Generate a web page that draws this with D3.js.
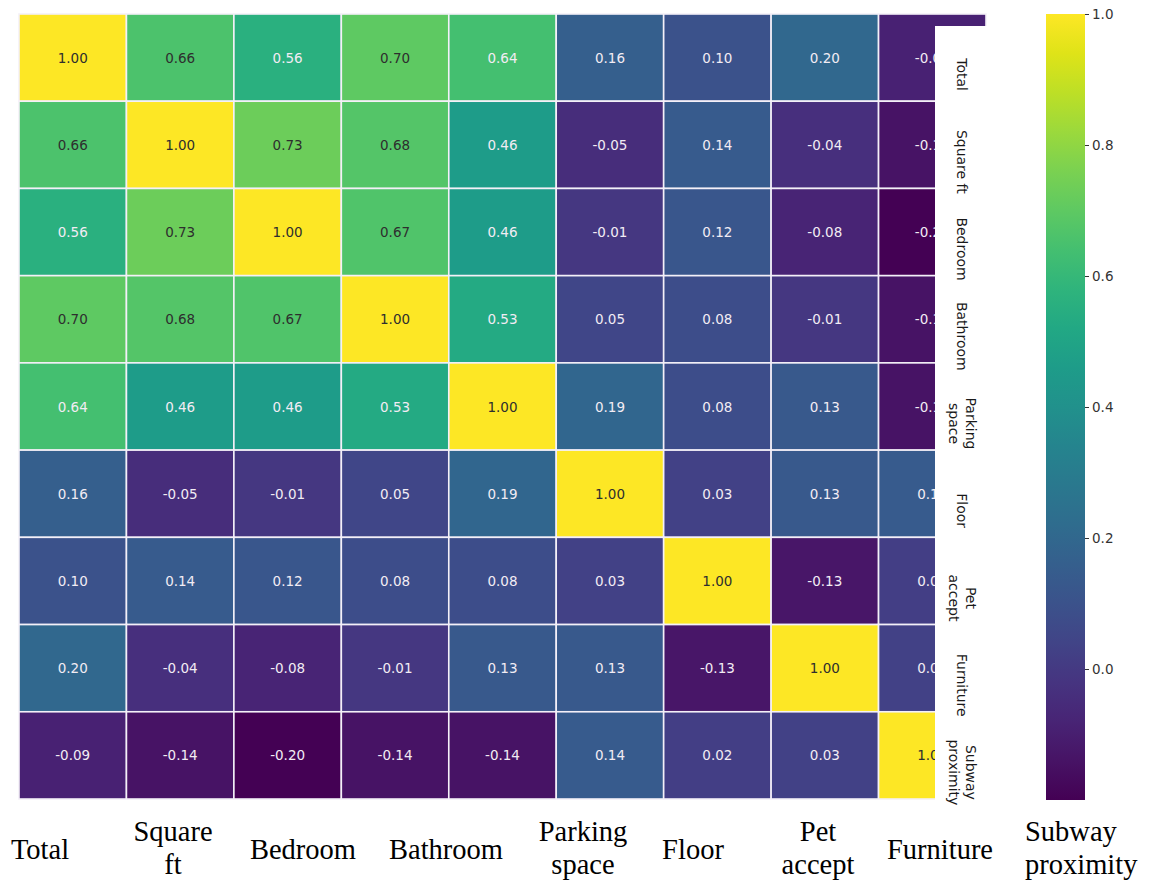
<!DOCTYPE html>
<html>
<head>
<meta charset="utf-8">
<script src="https://cdn.jsdelivr.net/npm/d3@7"></script>
<style>
  html, body { margin: 0; padding: 0; background: #fff; }
  svg { display: block; }
</style>
</head>
<body>
<svg id="chart" width="1150" height="882"></svg>
<script>
// Feature names (matrix order)
const features = ["Total", "Square ft", "Bedroom", "Bathroom", "Parking space",
                  "Floor", "Pet accept", "Furniture", "Subway proximity"];

// Labels as printed under the matrix and along its right side
const bottomLabels = [["Total"], ["Square", "ft"], ["Bedroom"], ["Bathroom"], ["Parking", "space"],
                      ["Floor"], ["Pet", "accept"], ["Furniture"], ["Subway", "proximity"]];
const sideLabels = [["Total"], ["Square ft"], ["Bedroom"], ["Bathroom"], ["Parking", "space"],
                    ["Floor"], ["Pet", "accept"], ["Furniture"], ["Subway", "proximity"]];

// Correlation matrix, one row per feature
const rowTotal     = [1.00, 0.66, 0.56, 0.70, 0.64, 0.16, 0.10, 0.20, -0.09];
const rowSquareFt  = [0.66, 1.00, 0.73, 0.68, 0.46, -0.05, 0.14, -0.04, -0.14];
const rowBedroom   = [0.56, 0.73, 1.00, 0.67, 0.46, -0.01, 0.12, -0.08, -0.20];
const rowBathroom  = [0.70, 0.68, 0.67, 1.00, 0.53, 0.05, 0.08, -0.01, -0.14];
const rowParking   = [0.64, 0.46, 0.46, 0.53, 1.00, 0.19, 0.08, 0.13, -0.14];
const rowFloor     = [0.16, -0.05, -0.01, 0.05, 0.19, 1.00, 0.03, 0.13, 0.14];
const rowPet       = [0.10, 0.14, 0.12, 0.08, 0.08, 0.03, 1.00, -0.13, 0.02];
const rowFurniture = [0.20, -0.04, -0.08, -0.01, 0.13, 0.13, -0.13, 1.00, 0.03];
const rowSubway    = [-0.09, -0.14, -0.20, -0.14, -0.14, 0.14, 0.02, 0.03, 1.00];

const colorbarTicks = [0.0, 0.2, 0.4, 0.6, 0.8, 1.0];

// ---- layout ----
const grid = { left: 19, top: 14, right: 986, bottom: 799 };
const bar = { left: 1046, width: 39, top: 14, bottom: 800 };
const bottomLabelX = [40, 173, 303, 446, 583, 693, 818, 940, 1025];
const bottomLabelAnchor = ["middle", "middle", "middle", "middle", "middle",
                           "middle", "middle", "middle", "start"];

const matrix = [rowTotal, rowSquareFt, rowBedroom, rowBathroom, rowParking,
                rowFloor, rowPet, rowFurniture, rowSubway];
const cells = [];
matrix.forEach((row, i) => row.forEach((v, j) =>
  cells.push({ row: features[i], col: features[j], value: v })));

const vmin = d3.min(cells, d => d.value);
const vmax = d3.max(cells, d => d.value);

const svg = d3.select("#chart");

const x = d3.scaleBand().domain(features).range([grid.left, grid.right]);
const y = d3.scaleBand().domain(features).range([grid.top, grid.bottom]);
const color = d3.scaleSequential(d3.interpolateViridis).domain([vmin, vmax]);

// relative luminance decides dark or light annotation text
function luminance(c) {
  const rgb = d3.rgb(c);
  const lin = [rgb.r, rgb.g, rgb.b].map(v => {
    v /= 255;
    return v <= 0.03928 ? v / 12.92 : Math.pow((v + 0.055) / 1.055, 2.4);
  });
  return 0.2126 * lin[0] + 0.7152 * lin[1] + 0.0722 * lin[2];
}

// ---- heatmap cells ----
const g = svg.append("g");
g.selectAll("rect.cell")
  .data(cells)
  .join("rect")
  .attr("class", "cell")
  .attr("x", d => x(d.col))
  .attr("y", d => y(d.row))
  .attr("width", x.bandwidth())
  .attr("height", y.bandwidth())
  .attr("fill", d => color(d.value))
  .attr("stroke", "#f4f0f8")
  .attr("stroke-width", 1.6);

g.selectAll("text.annot")
  .data(cells)
  .join("text")
  .attr("class", "annot")
  .attr("x", d => x(d.col) + x.bandwidth() / 2)
  .attr("y", d => y(d.row) + y.bandwidth() / 2)
  .attr("text-anchor", "middle")
  .attr("dominant-baseline", "central")
  .attr("font-family", "DejaVu Sans, sans-serif")
  .attr("font-size", 13.5)
  .attr("fill", d => luminance(color(d.value)) > 0.408 ? "#2e2e2e" : "#f2ecf4")
  .text(d => d3.format(".2f")(d.value).replace("−", "-"));

// ---- white label panel over the right edge of the matrix ----
svg.append("rect")
  .attr("x", 935).attr("y", 26)
  .attr("width", 60).attr("height", 800)
  .attr("fill", "#fff");

const side = svg.append("g");
sideLabels.forEach((lines, i) => {
  const cy = y(features[i]) + y.bandwidth() / 2 + 17;
  const t = side.append("text")
    .attr("transform", `translate(962,${cy}) rotate(90)`)
    .attr("text-anchor", "middle")
    .attr("font-family", "DejaVu Sans, sans-serif")
    .attr("font-size", 14)
    .attr("fill", "#1a1a1a");
  const n = lines.length;
  lines.forEach((ln, k) => {
    t.append("tspan")
      .attr("x", 0)
      .attr("y", (k - (n - 1) / 2) * 17)
      .attr("dominant-baseline", "central")
      .text(ln);
  });
});

// ---- bottom labels ----
const bottom = svg.append("g");
bottomLabels.forEach((lines, i) => {
  const t = bottom.append("text")
    .attr("x", bottomLabelX[i])
    .attr("text-anchor", bottomLabelAnchor[i])
    .attr("font-family", "Liberation Serif, Times New Roman, serif")
    .attr("font-size", 28.5)
    .attr("fill", "#000");
  if (lines.length === 1) {
    t.append("tspan").attr("x", bottomLabelX[i]).attr("y", 859).text(lines[0]);
  } else {
    t.append("tspan").attr("x", bottomLabelX[i]).attr("y", 841).text(lines[0]);
    t.append("tspan").attr("x", bottomLabelX[i]).attr("y", 874).text(lines[1]);
  }
});

// ---- colorbar ----
const cb = d3.scaleLinear().domain([vmin, vmax]).range([bar.bottom, bar.top]);
const defs = svg.append("defs");
const grad = defs.append("linearGradient")
  .attr("id", "cbar")
  .attr("x1", 0).attr("y1", 1).attr("x2", 0).attr("y2", 0);
d3.range(0, 1.0001, 0.05).forEach(t => {
  grad.append("stop")
    .attr("offset", t)
    .attr("stop-color", d3.interpolateViridis(t));
});
svg.append("rect")
  .attr("x", bar.left).attr("y", bar.top)
  .attr("width", bar.width).attr("height", bar.bottom - bar.top)
  .attr("fill", "url(#cbar)");

const axis = d3.axisRight(cb)
  .tickValues(colorbarTicks)
  .tickFormat(d3.format(".1f"))
  .tickSize(4)
  .tickPadding(3);
const ag = svg.append("g")
  .attr("transform", `translate(${bar.left + bar.width},0)`)
  .call(axis);
ag.select(".domain").remove();
ag.selectAll(".tick line").attr("stroke", "#333");
ag.selectAll(".tick text")
  .attr("font-family", "DejaVu Sans, sans-serif")
  .attr("font-size", 13.5)
  .attr("fill", "#333");
</script>
</body>
</html>
